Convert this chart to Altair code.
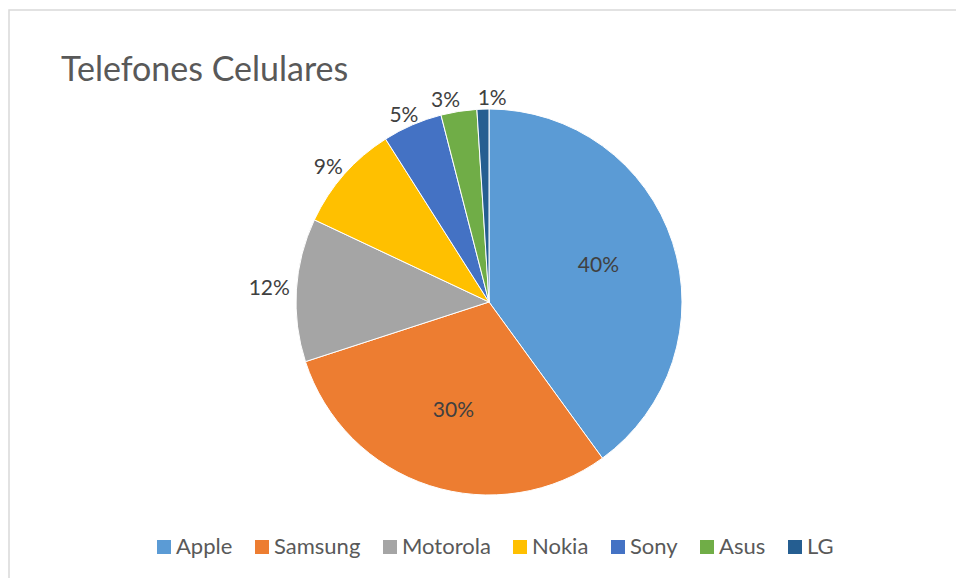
import altair as alt
import pandas as pd

title_text = "Telefones Celulares"
categories = ["Apple", "Samsung", "Motorola", "Nokia", "Sony", "Asus", "LG"]
values = [40, 30, 12, 9, 5, 3, 1]
colors = ["#5B9BD5", "#ED7D31", "#A5A5A5", "#FFC000", "#4472C4", "#70AD47", "#255E91"]

FS = 21  # data label font size
GAP = 18  # minimal gap between neighbouring outside labels
df = pd.DataFrame({"cat": categories, "val": values, "idx": list(range(len(categories)))})

base = alt.Chart(df).transform_joinaggregate(
    total="sum(val)"
).transform_window(
    cum="sum(val)", sort=[alt.SortField("idx")], frame=[None, 0]
).transform_calculate(
    t0="(datum.cum - datum.val) / datum.total * 2 * PI",
    t1="datum.cum / datum.total * 2 * PI",
    mid="(datum.cum - datum.val / 2) / datum.total * 2 * PI",
    pct="round(datum.val / datum.total * 100) + '%'",
    inside="datum.val / datum.total >= 0.2 ? 1 : 0",
).transform_calculate(
    w=f"(length(datum.pct) - 1) * 0.56 * {FS} + 0.8 * {FS}",
).transform_calculate(
    lx="489 + (datum.inside ? 115 * sin(datum.mid) : (200 + datum.w / 2) * sin(datum.mid))",
    ly="202 - (datum.inside ? 115 * cos(datum.mid) : 203 * cos(datum.mid))",
).transform_window(
    nlx="lead(lx)", nw="lead(w)", nly="lead(ly)", nin="lead(inside)",
    plx="lag(lx)", pw="lag(w)", ply="lag(ly)", pin="lag(inside)",
    sort=[alt.SortField("idx")],
).transform_calculate(
    ovn=f"(datum.inside == 0 && datum.nlx != null && datum.nin == 0 && abs(datum.ly - datum.nly) < 18) ? max(0, datum.lx + datum.w / 2 + {GAP} - (datum.nlx - datum.nw / 2)) : 0",
    ovp=f"(datum.inside == 0 && datum.plx != null && datum.pin == 0 && abs(datum.ly - datum.ply) < 18) ? max(0, datum.plx + datum.pw / 2 + {GAP} - (datum.lx - datum.w / 2)) : 0",
).transform_calculate(
    lx2="datum.lx - datum.ovn / 2 + datum.ovp / 2",
).encode(
    x=alt.value(489),
)

pie = base.mark_arc(outerRadius=193, stroke="white", strokeWidth=1).encode(
    theta=alt.Theta("t0:Q").scale(None),
    theta2="t1:Q",
    color=alt.Color("cat:N").scale(domain=categories, range=colors).legend(
        title=None,
        orient="none",
        direction="horizontal",
        legendX=153,
        legendY=436,
        symbolType="square",
        symbolSize=196,
        symbolStrokeWidth=0,
        labelFont="Lato",
        labelFontSize=22,
        labelColor="#595959",
        labelOffset=1,
        columnPadding=18,
    ),
)

labels = base.mark_text(font="Lato", fontSize=FS, color="#404040", baseline="middle").encode(
    x=alt.X("lx2:Q").scale(None),
    y=alt.Y("ly:Q").scale(None),
    text="pct:N",
)

frame = alt.Chart(pd.DataFrame({"a": [0]})).mark_rect(
    fill="transparent", stroke="#D9D9D9", strokeWidth=1.5
).encode(
    x=alt.value(9), x2=alt.value(1400), y=alt.value(-90), y2=alt.value(900)
)

title = alt.Chart(pd.DataFrame({"t": [title_text]})).mark_text(
    font="Lato", fontSize=34, color="#595959", align="left", baseline="alphabetic"
).encode(
    x=alt.value(61), y=alt.value(-19), text="t:N"
)

chart = alt.layer(frame, title, pie, labels).properties(
    width=956,
    height=404,
    padding={"left": 0, "top": 100, "right": 0, "bottom": 74},
    autosize="none",
    background="white",
).configure_view(stroke=None)

chart.save("out.html", embed_options={"renderer": "svg", "actions": False})
